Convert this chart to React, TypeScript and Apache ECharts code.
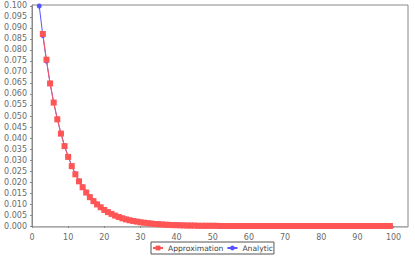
import React, { useEffect, useRef } from "react";
import * as echarts from "echarts";

const approxStartX = 3;
const approximationValues = [
  0.0873, 0.0756, 0.0648, 0.0561, 0.0485, 0.042, 0.0363, 0.0314, 0.0272, 0.0235,
  0.0203, 0.0176, 0.0152, 0.0131, 0.0113, 0.0098, 0.0085, 0.0073, 0.0063, 0.0055,
  0.0047, 0.0041, 0.0035, 0.003, 0.0026, 0.0023, 0.002, 0.0017, 0.0015, 0.0013,
  0.0011, 0.0009, 0.0008, 0.0007, 0.0006, 0.0005, 0.0004, 0.0004, 0.0003, 0.0003,
  0.0002, 0.0002, 0.0002, 0.0001, 0.0001, 0.0001, 0.0001, 0.0001, 0.0001,
  0, 0, 0, 0, 0, 0, 0, 0, 0, 0, 0, 0, 0, 0, 0, 0, 0, 0, 0, 0, 0, 0, 0, 0,
  0, 0, 0, 0, 0, 0, 0, 0, 0, 0, 0, 0, 0, 0, 0, 0, 0, 0, 0, 0, 0, 0, 0, 0,
];

const analyticStartX = 2;
const analyticValues = [
  0.1, 0.0866, 0.075, 0.0649, 0.0562, 0.0487, 0.0421, 0.0365, 0.0316, 0.0274,
  0.0237, 0.0205, 0.0178, 0.0154, 0.0133, 0.0115, 0.01, 0.0086, 0.0075, 0.0065,
  0.0056, 0.0049, 0.0042, 0.0036, 0.0032, 0.0027, 0.0024, 0.0021, 0.0018, 0.0015,
  0.0013, 0.0012, 0.001, 0.0009, 0.0007, 0.0006, 0.0006, 0.0005, 0.0004, 0.0004,
  0.0003, 0.0003, 0.0002, 0.0002, 0.0002, 0.0002, 0.0001, 0.0001, 0.0001, 0.0001,
  0.0001, 0.0001, 0.0001,
  0, 0, 0, 0, 0, 0, 0, 0, 0, 0, 0, 0, 0, 0, 0, 0, 0, 0, 0, 0, 0, 0,
  0, 0, 0, 0, 0, 0, 0, 0, 0, 0, 0, 0, 0, 0, 0, 0, 0, 0, 0, 0, 0, 0, 0,
];

const xTicks = [0, 10, 20, 30, 40, 50, 60, 70, 80, 90, 100];
const yTicks = [
  0, 0.005, 0.01, 0.015, 0.02, 0.025, 0.03, 0.035, 0.04, 0.045, 0.05,
  0.055, 0.06, 0.065, 0.07, 0.075, 0.08, 0.085, 0.09, 0.095, 0.1,
];

const FONT = "DejaVu Sans";

export default function App() {
  const ref = useRef<HTMLDivElement>(null);
  useEffect(() => {
    if (!ref.current) return;
    const chart = echarts.init(ref.current, undefined, { renderer: "svg" });
    const approxData = approximationValues.map((v, i) => [approxStartX + i, v]);
    const analyticData = analyticValues.map((v, i) => [analyticStartX + i, v]);
    chart.setOption({
      animation: false,
      backgroundColor: "#ffffff",
      grid: {
        left: 32,
        right: 7,
        top: 5,
        bottom: 30,
        show: true,
        borderColor: "#888888",
        borderWidth: 1,
        backgroundColor: "#ffffff",
      },
      legend: {
        data: ["Approximation", "Analytic"],
        bottom: 3,
        left: 151,
        orient: "horizontal",
        borderColor: "#555555",
        borderWidth: 1,
        padding: [2, 1, 2, 1],
        itemGap: 3,
        itemWidth: 10,
        itemHeight: 6,
        textStyle: { fontFamily: FONT, fontSize: 7.6, color: "#444444" },
      },
      xAxis: {
        type: "value",
        min: 0,
        max: 104,
        interval: 10,
        offset: 2,
        axisLine: { show: true, lineStyle: { color: "#aaaaaa", width: 1 } },
        axisTick: {
          show: true,
          length: 2,
          customValues: xTicks,
          lineStyle: { color: "#888888" },
        },
        axisLabel: {
          customValues: xTicks,
          fontFamily: FONT,
          fontSize: 8,
          color: "#6a6a6a",
          margin: 4,
        },
        splitLine: { show: false },
      },
      yAxis: {
        type: "value",
        min: -0.00045,
        max: 0.10045,
        offset: 1,
        axisLine: { show: true, lineStyle: { color: "#888888", width: 1 } },
        axisTick: {
          show: true,
          length: 2,
          customValues: yTicks,
          lineStyle: { color: "#888888" },
        },
        axisLabel: {
          customValues: yTicks,
          fontFamily: FONT,
          fontSize: 8,
          color: "#6a6a6a",
          margin: 4,
          formatter: (v: number) => v.toFixed(3),
        },
        splitLine: { show: false },
      },
      series: [
        {
          name: "Analytic",
          type: "line",
          data: analyticData,
          symbol: "circle",
          symbolSize: 5,
          showAllSymbol: true,
          itemStyle: { color: "#5555FF" },
          lineStyle: { color: "#5555FF", width: 1 },
        },
        {
          name: "Approximation",
          type: "line",
          data: approxData,
          symbol: "rect",
          symbolSize: 6,
          showAllSymbol: true,
          itemStyle: { color: "#FF5555" },
          lineStyle: { color: "#FF5555", width: 1 },
        },
      ],
    });
    return () => chart.dispose();
  }, []);
  return <div ref={ref} style={{ width: 415, height: 257, position: "absolute", left: 0, top: 0 }} />;
}
